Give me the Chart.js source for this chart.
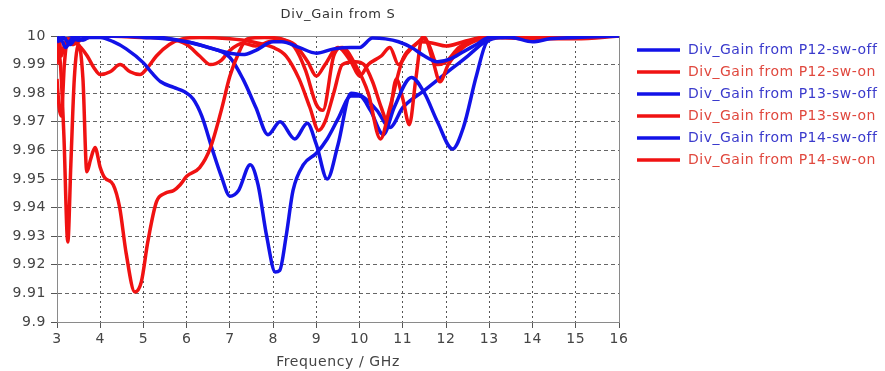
<!DOCTYPE html>
<html>
<head>
<meta charset="utf-8" />
<title>Div_Gain from S</title>
<script src="https://cdn.jsdelivr.net/npm/chart.js@4.4.0/dist/chart.umd.min.js"></script>
<style>
  body { margin: 0; padding: 0; background: #fff; }
  #wrap { position: absolute; left: 0; top: 0; width: 885px; height: 371px; }
</style>
</head>
<body>
<div id="wrap"><canvas id="gain"></canvas></div>
<script>

// frequency (GHz) / gain samples for each port and switch state
var p12OffFreq = [3.0, 3.15, 3.3, 3.45, 3.6, 3.8, 4.5, 5.0, 5.5, 6.0, 6.5, 7.0, 7.3, 7.6, 8.0, 8.2, 8.6, 9.0, 9.4, 9.8, 10.0, 10.3, 10.6, 10.9, 11.2, 11.5, 11.8, 12.1, 12.4, 12.7, 13.0, 13.5, 14.0, 14.4, 15.0, 16.0];
var p12OffGain = [9.9985, 9.9995, 9.997, 9.9995, 9.9985, 10.0, 10.0, 9.9995, 9.999, 9.998, 9.996, 9.994, 9.9935, 9.995, 9.998, 9.998, 9.996, 9.994, 9.9955, 9.996, 9.996, 9.9993, 9.999, 9.998, 9.996, 9.993, 9.991, 9.992, 9.9945, 9.997, 9.9995, 9.9995, 9.998, 9.999, 9.9995, 10.0];

var p12OnFreq = [3.0, 3.08, 3.16, 3.25, 3.32, 3.4, 3.5, 3.6, 3.69, 3.78, 3.88, 4.0, 4.1, 4.3, 4.45, 4.6, 4.8, 4.95, 5.1, 5.3, 5.5, 5.7, 5.85, 6.0, 6.3, 6.55, 6.8, 7.0, 7.2, 7.4, 7.8, 8.2, 8.5, 8.75, 9.0, 9.15, 9.4, 9.6, 9.9, 10.2, 10.48, 10.7, 11.0, 11.3, 11.5, 11.7, 11.86, 12.05, 12.4, 12.8, 13.0, 14.0, 16.0];
var p12OnGain = [9.997, 9.99, 9.965, 9.928, 9.955, 9.985, 9.997, 9.985, 9.9525, 9.957, 9.961, 9.954, 9.9505, 9.948, 9.94, 9.924, 9.9105, 9.914, 9.928, 9.942, 9.945, 9.946, 9.948, 9.951, 9.954, 9.961, 9.974, 9.986, 9.994, 9.999, 9.9995, 9.999, 9.996, 9.988, 9.976, 9.974, 9.993, 9.996, 9.99, 9.98, 9.964, 9.975, 9.992, 9.997, 9.9995, 9.991, 9.984, 9.99, 9.996, 9.999, 9.9995, 9.9995, 10.0];

var p13OffFreq = [3.0, 3.1, 3.2, 3.35, 3.5, 3.7, 4.0, 4.3, 4.6, 5.0, 5.2, 5.4, 5.7, 5.95, 6.15, 6.35, 6.6, 6.8, 7.0, 7.2, 7.47, 7.65, 7.85, 8.05, 8.15, 8.3, 8.46, 8.7, 9.0, 9.25, 9.5, 9.8, 10.0, 10.25, 10.55, 10.8, 11.2, 11.5, 11.8, 12.15, 12.4, 12.7, 12.95, 13.3, 14.0, 16.0];
var p13OffGain = [9.998, 9.9985, 9.996, 9.999, 9.9985, 9.9995, 9.9995, 9.998, 9.9955, 9.9906, 9.987, 9.984, 9.982, 9.9805, 9.978, 9.972, 9.96, 9.951, 9.944, 9.946, 9.955, 9.948, 9.93, 9.9175, 9.918, 9.93, 9.946, 9.955, 9.959, 9.964, 9.971, 9.979, 9.979, 9.974, 9.9655, 9.975, 9.9855, 9.98, 9.97, 9.9605, 9.968, 9.986, 9.998, 9.9995, 10.0, 10.0];

var p13OnFreq = [3.0, 3.05, 3.1, 3.17, 3.25, 3.4, 3.55, 3.7, 3.85, 4.0, 4.23, 4.46, 4.69, 4.92, 5.1, 5.3, 5.6, 5.9, 6.3, 7.0, 7.5, 8.0, 8.3, 8.6, 8.85, 9.05, 9.2, 9.4, 9.6, 9.9, 10.1, 10.3, 10.5, 10.65, 10.85, 11.0, 11.15, 11.3, 11.45, 11.6, 11.8, 12.0, 12.3, 12.7, 13.2, 14.0, 15.0, 16.0];
var p13OnGain = [9.985, 9.975, 9.972, 9.99, 9.999, 9.998, 9.996, 9.993, 9.989, 9.9865, 9.9875, 9.99, 9.9875, 9.9865, 9.989, 9.993, 9.997, 9.999, 9.9995, 9.999, 9.998, 9.996, 9.993, 9.985, 9.975, 9.967, 9.97, 9.98, 9.99, 9.991, 9.99, 9.984, 9.975, 9.97, 9.985, 9.978, 9.969, 9.985, 9.9995, 9.997, 9.99, 9.991, 9.996, 9.999, 9.9995, 9.999, 9.999, 10.0];

var p14OffFreq = [3.0, 3.2, 3.5, 5.0, 6.0, 6.5, 7.0, 7.3, 7.6, 7.88, 8.16, 8.5, 8.79, 9.0, 9.25, 9.5, 9.8, 10.05, 10.4, 10.7, 11.0, 11.5, 12.0, 12.5, 12.9, 13.2, 16.0];
var p14OffGain = [9.9995, 9.999, 10.0, 10.0, 9.998, 9.996, 9.9925, 9.985, 9.975, 9.9655, 9.97, 9.964, 9.9695, 9.962, 9.95, 9.962, 9.98, 9.979, 9.974, 9.968, 9.975, 9.981, 9.987, 9.993, 9.998, 10.0, 10.0];

var p14OnFreq = [3.0, 3.05, 3.1, 3.2, 3.35, 3.6, 4.0, 5.0, 5.6, 6.0, 6.3, 6.55, 6.8, 7.0, 7.3, 7.6, 7.9, 8.2, 8.5, 8.8, 9.0, 9.2, 9.5, 9.8, 10.0, 10.2, 10.5, 10.7, 10.9, 11.1, 11.4, 11.7, 12.0, 12.4, 12.8, 13.0, 16.0];
var p14OnGain = [9.99, 9.999, 9.993, 9.998, 9.997, 9.999, 10.0, 9.9995, 9.999, 9.997, 9.993, 9.99, 9.9915, 9.995, 9.9975, 9.9965, 9.998, 9.9985, 9.997, 9.991, 9.986, 9.99, 9.996, 9.991, 9.986, 9.99, 9.993, 9.996, 9.99, 9.994, 9.998, 9.9975, 9.9965, 9.998, 9.9995, 10.0, 10.0];

var freqTicks = [3, 4, 5, 6, 7, 8, 9, 10, 11, 12, 13, 14, 15, 16];
var gainTicks = [9.9, 9.91, 9.92, 9.93, 9.94, 9.95, 9.96, 9.97, 9.98, 9.99, 10];

var BLUE = '#1212e8';
var RED = '#f01212';
var FONT = { family: 'DejaVu Sans', size: 14 };

function pts(fs, gs) {
  return fs.map(function (f, i) { return { x: f, y: gs[i] }; });
}

function series(label, fs, gs, color, textColor) {
  return {
    label: label,
    data: pts(fs, gs),
    borderColor: color,
    backgroundColor: color,
    textColor: textColor,
    borderWidth: 3.5,
    pointRadius: 0,
    cubicInterpolationMode: 'monotone',
    fill: false
  };
}

// wider text spacing for all labels
var spacingPlugin = {
  id: 'spacing',
  beforeInit: function (chart) { chart.ctx.letterSpacing = '0.6px'; },
  beforeDraw: function (chart) { chart.ctx.letterSpacing = '0.6px'; }
};

// frame around the plot + title + legend
var framePlugin = {
  id: 'frame',
  beforeDatasetsDraw: function (chart) {
    var a = chart.chartArea, c = chart.ctx;
    c.save();
    c.strokeStyle = '#8a8a8a';
    c.lineWidth = 1;
    c.strokeRect(a.left + 0.5, a.top + 0.5, a.right - a.left, a.bottom - a.top);
    c.restore();
  },
  afterDraw: function (chart) {
    var a = chart.chartArea, c = chart.ctx;
    c.save();
    c.fillStyle = '#333';
    c.font = '13px "DejaVu Sans"';
    c.letterSpacing = '0.7px';
    c.textAlign = 'center';
    c.textBaseline = 'middle';
    c.fillText('Div_Gain from S', (a.left + a.right) / 2, 15);

    c.font = '14px "DejaVu Sans"';
    c.letterSpacing = '0.5px';
    c.textAlign = 'left';
    chart.data.datasets.forEach(function (ds, i) {
      var y = 50 + i * 22;
      c.strokeStyle = ds.borderColor;
      c.lineWidth = 3.5;
      c.beginPath();
      c.moveTo(637, y);
      c.lineTo(680, y);
      c.stroke();
      c.fillStyle = ds.textColor;
      c.fillText(ds.label, 688, y);
    });
    c.restore();
  }
};

new Chart(document.getElementById('gain'), {
  type: 'line',
  data: {
    datasets: [
      series('Div_Gain from P12-sw-off', p12OffFreq, p12OffGain, BLUE, '#3a3acc'),
      series('Div_Gain from P12-sw-on', p12OnFreq, p12OnGain, RED, '#e0483e'),
      series('Div_Gain from P13-sw-off', p13OffFreq, p13OffGain, BLUE, '#3a3acc'),
      series('Div_Gain from P13-sw-on', p13OnFreq, p13OnGain, RED, '#e0483e'),
      series('Div_Gain from P14-sw-off', p14OffFreq, p14OffGain, BLUE, '#3a3acc'),
      series('Div_Gain from P14-sw-on', p14OnFreq, p14OnGain, RED, '#e0483e')
    ]
  },
  options: {
    responsive: true,
    maintainAspectRatio: false,
    animation: false,
    layout: { padding: { left: 0, right: 266, top: 36, bottom: 0 } },
    plugins: {
      legend: { display: false },
      title: { display: false },
      tooltip: { enabled: false }
    },
    scales: {
      x: {
        type: 'linear',
        min: 3,
        max: 16,
        afterBuildTicks: function (s) {
          s.ticks = freqTicks.map(function (v) { return { value: v }; });
        },
        afterFit: function (s) { s.height = 49; },
        grid: {
          color: '#555',
          tickLength: 6,
          tickColor: '#555',
          tickBorderDash: []
        },
        border: { display: true, color: '#8a8a8a', dash: [2, 3] },
        ticks: {
          color: '#444',
          font: FONT,
          padding: 3,
          maxRotation: 0
        },
        title: {
          display: true,
          text: 'Frequency / GHz',
          color: '#444',
          font: FONT,
          padding: { top: 1, bottom: 0 }
        }
      },
      y: {
        min: 9.9,
        max: 10,
        afterBuildTicks: function (s) {
          s.ticks = gainTicks.map(function (v) { return { value: v }; });
        },
        afterFit: function (s) { s.width = 57; },
        grid: {
          color: '#666',
          tickLength: 6,
          tickColor: '#555',
          tickBorderDash: []
        },
        border: { display: true, color: '#8a8a8a', dash: [4, 3] },
        ticks: {
          color: '#444',
          font: FONT,
          padding: 5,
          callback: function (v) { return String(Number(v.toFixed(2))); }
        }
      }
    }
  },
  plugins: [spacingPlugin, framePlugin]
});
</script>
</body>
</html>
